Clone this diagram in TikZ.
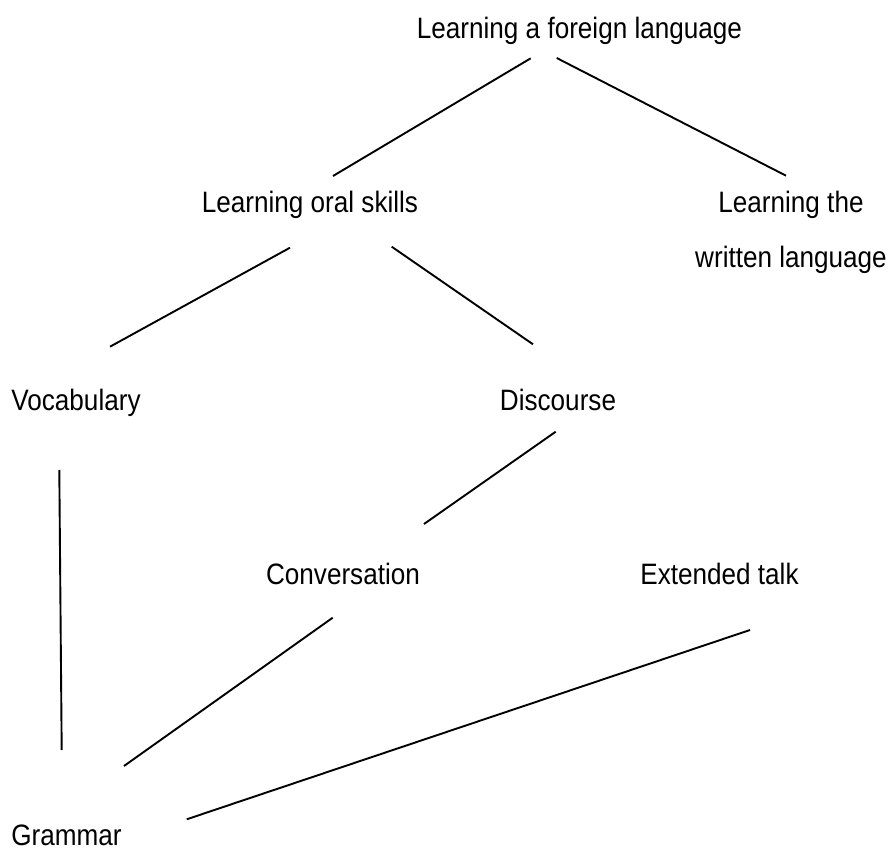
\documentclass[tikz,border=0pt]{standalone}
\usepackage{fontspec}
\setmainfont[FakeStretch=0.885]{Liberation Sans}
\begin{document}
\begin{tikzpicture}[x=1pt,y=-1pt,
  lbl/.style={anchor=base,inner sep=0pt,font=\fontsize{29.5}{55}\selectfont},
  conn/.style={line width=1.9pt,line cap=butt}]
\useasboundingbox (0,0) rectangle (894,850);
% labels
\node[lbl] (top) at (579.5,39) {Learning a foreign language};
\node[lbl] (oral) at (310,213) {Learning oral skills};
\node[lbl,align=center] (written) at (791,268) {Learning the\\written language};
\node[lbl] (vocab) at (76,410.5) {Vocabulary};
\node[lbl] (disc) at (558,410.7) {Discourse};
\node[lbl] (conv) at (343,584.3) {Conversation};
\node[lbl] (ext) at (719.5,584.3) {Extended talk};
\node[lbl] (gram) at (66.5,845) {Grammar};
% connector end points
\coordinate (topL) at (530.7,58.3);
\coordinate (oralT) at (333,176);
\coordinate (topR) at (556.7,58);
\coordinate (writT) at (786,175.7);
\coordinate (oralL) at (290,247.7);
\coordinate (vocT) at (110,346.7);
\coordinate (oralR) at (391.7,246.7);
\coordinate (discT) at (533,344.3);
\coordinate (discB) at (555.7,431.7);
\coordinate (convT) at (424,524);
\coordinate (vocB) at (59.3,470);
\coordinate (gramA) at (61.7,750);
\coordinate (convB) at (332.7,617.7);
\coordinate (gramB) at (124,766);
\coordinate (extB) at (750,630);
\coordinate (gramC) at (186.7,819.3);
% connectors
\draw[conn] (topL) -- (oralT);
\draw[conn] (topR) -- (writT);
\draw[conn] (oralL) -- (vocT);
\draw[conn] (oralR) -- (discT);
\draw[conn] (discB) -- (convT);
\draw[conn] (vocB) -- (gramA);
\draw[conn] (convB) -- (gramB);
\draw[conn] (extB) -- (gramC);
\end{tikzpicture}
\end{document}
